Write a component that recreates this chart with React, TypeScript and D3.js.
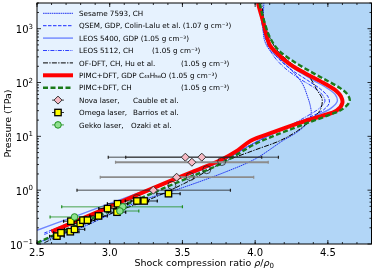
import * as d3 from 'd3';

// Hugoniot curves: [rho/rho0, P (TPa)], ordered by pressure
const sesame7593: [number, number][] = [
  [2.5, 0.106], [2.8, 0.2], [3.19, 0.6], [3.486, 1.08], [3.8, 2.2], [4.0, 3.8], [4.19, 8.3],
  [4.3, 12.6], [4.36, 18], [4.385, 26], [4.38, 36], [4.36, 55], [4.32, 100], [4.19, 245],
  [4.1, 400], [4.065, 600], [4.055, 1000], [4.06, 3000],
];
const qsemGdp: [number, number][] = [
  [2.55, 0.16], [2.8, 0.3], [3.0, 0.5], [3.2, 0.84], [3.4, 1.4], [3.6, 2.3], [3.8, 3.8],
  [3.95, 6.5], [4.1, 10.5], [4.25, 16], [4.38, 23], [4.47, 31], [4.51, 42], [4.5, 55],
  [4.45, 75], [4.36, 110], [4.24, 180], [4.14, 320], [4.08, 600], [4.05, 1200], [4.035, 3000],
];
const leos5400: [number, number][] = [
  [2.5, 0.18], [2.725, 0.3], [2.947, 0.5], [3.18, 0.85], [3.4, 1.4], [3.62, 2.3], [3.8, 3.8],
  [3.93, 6], [4.05, 9], [4.18, 13], [4.31, 18], [4.43, 25], [4.52, 33], [4.565, 45],
  [4.55, 60], [4.49, 80], [4.4, 110], [4.3, 160], [4.2, 250], [4.12, 400], [4.08, 700],
  [4.05, 1300], [4.03, 3000],
];
const leos5112: [number, number][] = [
  [2.55, 0.15], [2.8, 0.28], [3.0, 0.47], [3.2, 0.8], [3.4, 1.35], [3.6, 2.25], [3.8, 3.8],
  [3.95, 6.5], [4.1, 10.5], [4.24, 16], [4.36, 24], [4.44, 33], [4.48, 45], [4.46, 60],
  [4.4, 82], [4.3, 120], [4.2, 190], [4.12, 330], [4.07, 650], [4.045, 1300], [4.03, 3000],
];
const ofdftCh: [number, number][] = [
  [2.55, 0.105], [2.75, 0.19], [3.0, 0.36], [3.3, 0.72], [3.55, 1.5], [3.78, 3.3],
  [4.0, 5.6], [4.17, 8.3], [4.29, 12.6], [4.4, 22], [4.45, 32], [4.46, 50], [4.43, 69],
  [4.36, 140], [4.26, 215], [4.15, 400], [4.09, 800], [4.06, 1500], [4.045, 3000],
];
const pimcGdp: [number, number][] = [
  [2.6, 0.17], [2.79, 0.28], [2.99, 0.48], [3.18, 0.8], [3.38, 1.35], [3.57, 2.2],
  [3.76, 3.6], [3.88, 5.5], [3.97, 8.3], [4.12, 11.8], [4.24, 15.5], [4.35, 19.5],
  [4.46, 24], [4.56, 30], [4.6, 42], [4.59, 55], [4.56, 69], [4.45, 105], [4.34, 150],
  [4.24, 217], [4.15, 350], [4.1, 500], [4.075, 800], [4.055, 1350], [4.025, 2600], [4.02, 3000],
];
const pimcCh: [number, number][] = [
  [2.5, 0.105], [2.73, 0.2], [2.94, 0.35], [3.15, 0.6], [3.34, 1.0], [3.54, 1.7],
  [3.73, 2.8], [3.87, 4.5], [3.99, 7], [4.12, 10], [4.26, 14], [4.39, 19], [4.51, 25],
  [4.6, 32], [4.65, 45], [4.635, 60], [4.58, 80], [4.49, 110], [4.38, 160], [4.26, 250],
  [4.16, 400], [4.1, 700], [4.065, 1300], [4.035, 2600], [4.03, 3000],
];

// Experiments
const novaRho = [3.3, 3.52, 3.633];
const novaP = [1.0, 4.1, 4.1];
const novaLo = [2.775, 2.99, 3.11];
const novaHi = [3.83, 4.045, 4.16];
const nova2Rho = [3.46, 3.565];
const nova2P = [1.74, 3.3];
const nova2Lo = [2.935, 3.04];
const nova2Hi = [3.99, 4.09];

const omegaRho = [2.637, 2.665, 2.729, 2.758, 2.733, 2.797, 2.816, 2.847, 2.923, 2.985, 3.054, 3.05, 3.187, 3.237, 3.404];
const omegaP = [0.14, 0.162, 0.169, 0.187, 0.265, 0.241, 0.277, 0.277, 0.332, 0.455, 0.56, 0.39, 0.63, 0.63, 0.86];
const omegaErr = [0.05, 0.05, 0.06, 0.07, 0.05, 0.06, 0.06, 0.05, 0.06, 0.06, 0.07, 0.06, 0.08, 0.09, 0.08];

const gekkoRho = [2.758, 3.09, 3.07];
const gekkoP = [0.318, 0.49, 0.41];
const gekkoLo = [2.59, 2.67, 3.03];
const gekkoHi = [2.9, 3.5, 3.2];

const otherRho = [3.186, 3.427, 3.553, 3.667, 3.77];
const otherP = [0.7, 1.23, 1.79, 2.4, 3.4];

const xTicks = [2.5, 3.0, 3.5, 4.0, 4.5];
const yExps = [-1, 0, 1, 2, 3];

const W = 374, H = 272;
const L = 37, R = 371.5, T = 3, B = 244;
const x = d3.scaleLinear([2.5, 4.8], [L, R]);
const y = d3.scaleLog([0.1, 3000], [B, T]);
const FONT = 'DejaVu Sans';
const LEG_FS = 7.2;

const line = d3.line<[number, number]>()
  .x(d => x(d[0]))
  .y(d => y(d[1]))
  .curve(d3.curveCatmullRom.alpha(0.5));

const curves = [
  { d: sesame7593, stroke: '#2436f0', w: 1, dash: '1.6,0.6' },
  { d: qsemGdp, stroke: '#1a2cff', w: 1, dash: '3.5,1.5' },
  { d: leos5400, stroke: '#6f86ff', w: 1.4, dash: '' },
  { d: leos5112, stroke: '#1a2cff', w: 0.9, dash: '4,1.2,1,1.2' },
  { d: ofdftCh, stroke: '#000', w: 1, dash: '5,1.3,1.3,1.3' },
  { d: pimcGdp, stroke: '#ff0000', w: 4, dash: '' },
  { d: pimcCh, stroke: '#1a7a1a', w: 2.4, dash: '5,2.5' },
];

function Diamond({ cx, cy }: { cx: number; cy: number }) {
  const r = 4;
  return <path d={`M${cx},${cy - r}L${cx + r},${cy}L${cx},${cy + r}L${cx - r},${cy}Z`} fill="#f7b9c4" stroke="#333" strokeWidth={1} />;
}
function Square({ cx, cy }: { cx: number; cy: number }) {
  return <rect x={cx - 3.2} y={cy - 3.2} width={6.4} height={6.4} fill="#ffff00" stroke="#000" strokeWidth={1.3} />;
}
function Dot({ cx, cy }: { cx: number; cy: number }) {
  return <circle cx={cx} cy={cy} r={3.3} fill="#8fe08f" stroke="#1f8f1f" strokeWidth={1} />;
}

function ErrBar({ lo, hi, p, color, w }: { lo: number; hi: number; p: number; color: string; w: number }) {
  const yy = y(p);
  return (
    <g stroke={color} strokeWidth={w}>
      <line x1={x(lo)} x2={x(hi)} y1={yy} y2={yy} />
      <line x1={x(lo)} x2={x(lo)} y1={yy - 1.5} y2={yy + 1.5} strokeWidth={1.2} />
      <line x1={x(hi)} x2={x(hi)} y1={yy - 1.5} y2={yy + 1.5} strokeWidth={1.2} />
    </g>
  );
}

const legendRows: { label: string; extra?: string; extraX?: number; kind: string; idx?: number }[] = [
  { label: 'Sesame 7593, CH', kind: 'line', idx: 0 },
  { label: 'QSEM, GDP, Colin-Lalu et al. (1.07 g cm⁻³)', kind: 'line', idx: 1 },
  { label: 'LEOS 5400, GDP (1.05 g cm⁻³)', kind: 'line', idx: 2 },
  { label: 'LEOS 5112, CH', extra: '(1.05 g cm⁻³)', extraX: 152, kind: 'line', idx: 3 },
  { label: 'OF-DFT, CH, Hu et al.', extra: '(1.05 g cm⁻³)', extraX: 181, kind: 'line', idx: 4 },
  { label: 'PIMC+DFT, GDP C₄₃H₅₆O (1.05 g cm⁻³)', kind: 'line', idx: 5 },
  { label: 'PIMC+DFT, CH', extra: '(1.05 g cm⁻³)', extraX: 181, kind: 'line', idx: 6 },
  { label: 'Nova laser,', extra: 'Cauble et al.', extraX: 133, kind: 'nova' },
  { label: 'Omega laser,', extra: 'Barrios et al.', extraX: 133, kind: 'omega' },
  { label: 'Gekko laser,', extra: 'Ozaki et al.', extraX: 131, kind: 'gekko' },
];

export default function App() {
  const fillPath = line(pimcCh) + `L${R},${y(3000)}L${R},${B}L${L},${B}Z`;
  const xMinor = d3.range(25, 49).map(v => v / 10);
  const yMinor: number[] = [];
  for (let e = -1; e <= 3; e++) for (let k = 2; k <= 9; k++) { const v = k * 10 ** e; if (v <= 3000) yMinor.push(v); }

  return (
    <div style={{ position: 'fixed', left: 0, top: 0 }}>
      <svg width={W} height={H} style={{ display: 'block', fontFamily: FONT }}>
        <defs>
          <clipPath id="plot"><rect x={L} y={T} width={R - L} height={B - T} /></clipPath>
        </defs>
        <rect x={L} y={T} width={R - L} height={B - T} fill="#e6f2fe" />
        <g clipPath="url(#plot)">
          <path d={fillPath} fill="#b2d6f7" />
          {curves.map((c, i) => (
            <path key={i} d={line(c.d) || ''} fill="none" stroke={c.stroke} strokeWidth={c.w}
              strokeDasharray={c.dash || undefined} />
          ))}
          {novaRho.map((r, i) => <ErrBar key={'ne' + i} lo={novaLo[i]} hi={novaHi[i]} p={novaP[i]} color="#222" w={0.8} />)}
          {nova2Rho.map((r, i) => <ErrBar key={'n2e' + i} lo={nova2Lo[i]} hi={nova2Hi[i]} p={nova2P[i]} color="#8c8c8c" w={1.8} />)}
          {gekkoRho.map((r, i) => <ErrBar key={'ge' + i} lo={gekkoLo[i]} hi={gekkoHi[i]} p={gekkoP[i]} color="#1f8f1f" w={0.8} />)}
          {omegaRho.map((r, i) => <ErrBar key={'oe' + i} lo={r - omegaErr[i]} hi={r + omegaErr[i]} p={omegaP[i]} color="#000" w={0.8} />)}
          {otherRho.map((r, i) => <circle key={'c' + i} cx={x(r)} cy={y(otherP[i])} r={4} fill="none" stroke="#222" strokeWidth={0.8} />)}
          {omegaRho.map((r, i) => <Square key={'o' + i} cx={x(r)} cy={y(omegaP[i])} />)}
          {gekkoRho.map((r, i) => <Dot key={'g' + i} cx={x(r)} cy={y(gekkoP[i])} />)}
          {novaRho.map((r, i) => <Diamond key={'n' + i} cx={x(r)} cy={y(novaP[i])} />)}
          {nova2Rho.map((r, i) => <Diamond key={'n2' + i} cx={x(r)} cy={y(nova2P[i])} />)}
        </g>

        {/* ticks */}
        <g stroke="#000" strokeWidth={0.8}>
          {xMinor.map(v => (
            <g key={'xm' + v}>
              <line x1={x(v)} x2={x(v)} y1={B} y2={B - 2} />
              <line x1={x(v)} x2={x(v)} y1={T} y2={T + 2} />
            </g>
          ))}
          {xTicks.map(v => (
            <g key={'xt' + v}>
              <line x1={x(v)} x2={x(v)} y1={B} y2={B - 4} />
              <line x1={x(v)} x2={x(v)} y1={T} y2={T + 4} />
            </g>
          ))}
          {yMinor.map(v => (
            <g key={'ym' + v}>
              <line x1={L} x2={L + 2} y1={y(v)} y2={y(v)} />
              <line x1={R} x2={R - 2} y1={y(v)} y2={y(v)} />
            </g>
          ))}
          {yExps.map(e => (
            <g key={'yt' + e}>
              <line x1={L} x2={L + 4} y1={y(10 ** e)} y2={y(10 ** e)} />
              <line x1={R} x2={R - 4} y1={y(10 ** e)} y2={y(10 ** e)} />
            </g>
          ))}
        </g>
        <rect x={L} y={T} width={R - L} height={B - T} fill="none" stroke="#000" strokeWidth={1} />

        {xTicks.map(v => (
          <text key={'xl' + v} x={x(v)} y={256} fontSize={10} textAnchor="middle">{v.toFixed(1)}</text>
        ))}
        {yExps.map(e => (
          <text key={'yl' + e} x={33} y={y(10 ** e) + 4.5} fontSize={10} textAnchor="end">
            10<tspan dy={-4.5} fontSize={7}>{e < 0 ? '−' + -e : e}</tspan>
          </text>
        ))}
        <text transform={`translate(11,${(T + B) / 2}) rotate(-90)`} fontSize={9.5} textAnchor="middle">Pressure (TPa)</text>
        <text x={(L + R) / 2} y={266} fontSize={9.5} textAnchor="middle">
          Shock compression ratio <tspan fontStyle="italic">ρ</tspan>/<tspan fontStyle="italic">ρ</tspan>
          <tspan fontSize={7} dy={2}>0</tspan>
        </text>

        {/* legend */}
        {legendRows.map((row, i) => {
          const yy = 13.3 + i * 12.4;
          let handle;
          if (row.kind === 'line') {
            const c = curves[row.idx!];
            handle = <line x1={43} x2={73} y1={yy} y2={yy} stroke={c.stroke} strokeWidth={c.w}
              strokeDasharray={c.dash || undefined} />;
          } else {
            const col = row.kind === 'nova' ? '#222' : row.kind === 'omega' ? '#000' : '#1f8f1f';
            handle = (
              <g>
                <line x1={52} x2={64} y1={yy} y2={yy} stroke={col} strokeWidth={0.8} />
                {row.kind === 'nova' && <Diamond cx={58} cy={yy} />}
                {row.kind === 'omega' && <Square cx={58} cy={yy} />}
                {row.kind === 'gekko' && <Dot cx={58} cy={yy} />}
              </g>
            );
          }
          return (
            <g key={'lg' + i}>
              {handle}
              <text x={79} y={yy + 2.7} fontSize={LEG_FS}>{row.label}</text>
              {row.extra && <text x={row.extraX} y={yy + 2.7} fontSize={LEG_FS}>{row.extra}</text>}
            </g>
          );
        })}
      </svg>
    </div>
  );
}
